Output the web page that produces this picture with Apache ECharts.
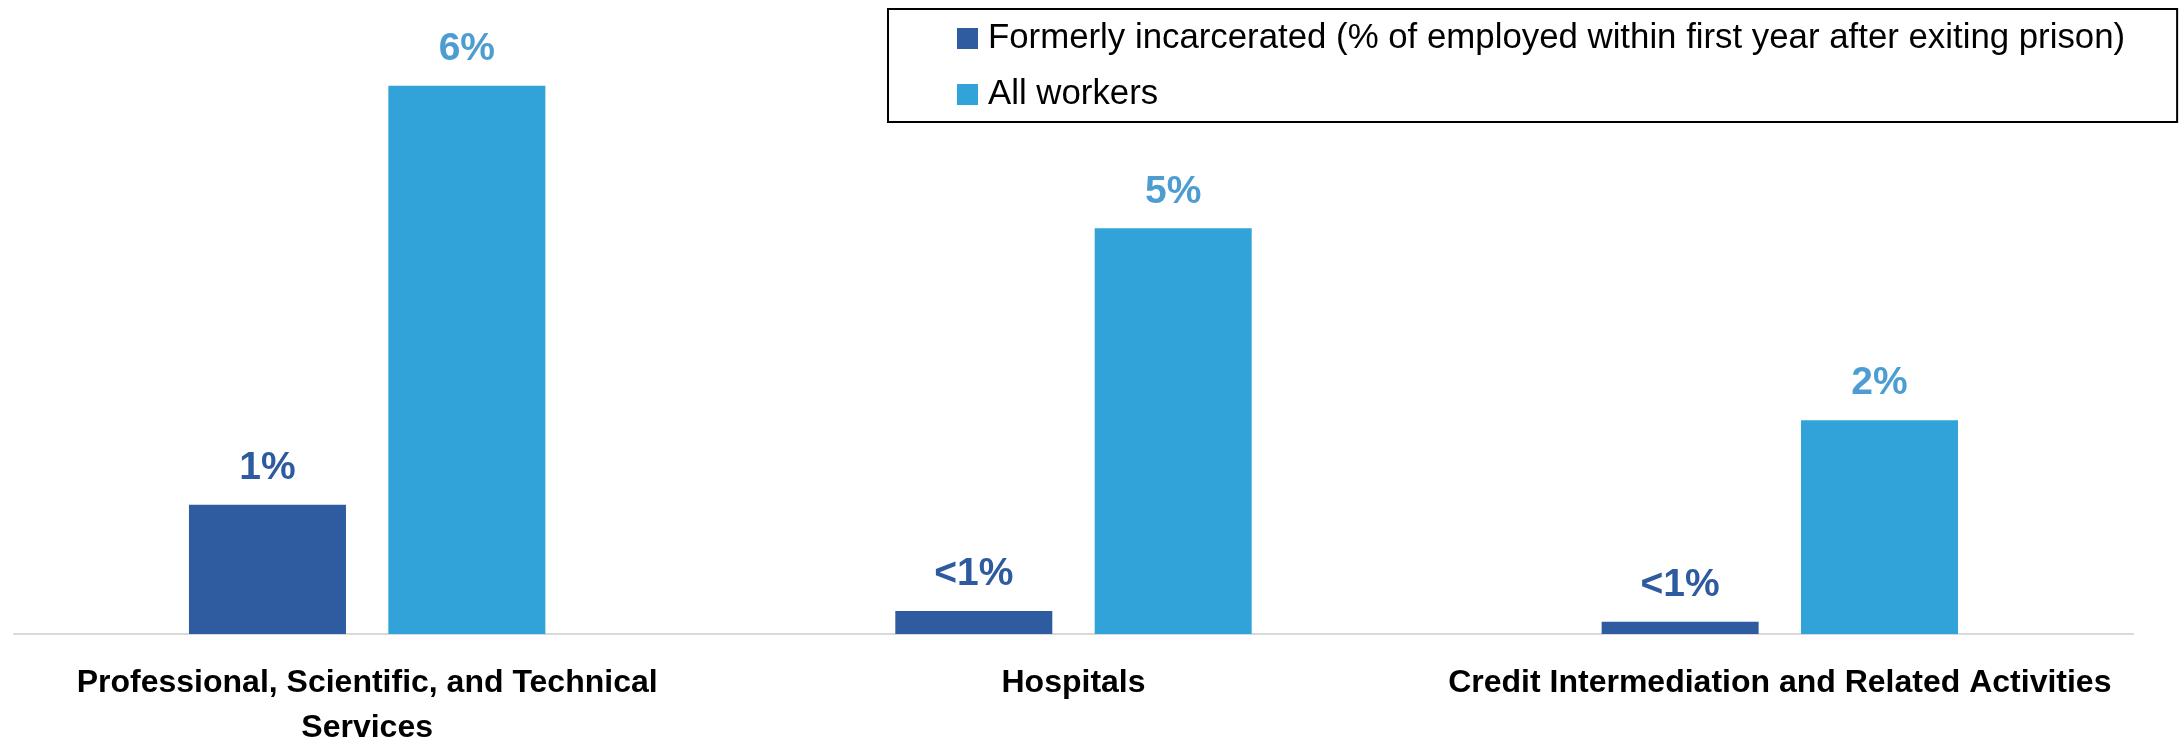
<!DOCTYPE html>
<html>
<head>
<meta charset="utf-8">
<title>Industry employment comparison</title>
<script src="https://cdn.jsdelivr.net/npm/echarts@6.0.0/dist/echarts.min.js"></script>
<style>
  html, body { margin: 0; padding: 0; background: #fff; }
  #chart { width: 2183px; height: 744px; }
</style>
</head>
<body>
<div id="chart"></div>
<script>
// 类别（行业）
const categories = [
  'Professional, Scientific, and Technical\nServices',
  'Hospitals',
  'Credit Intermediation and Related Activities'
];
// 系列名称
const seriesNames = [
  'Formerly incarcerated (% of employed within first year after exiting prison)',
  'All workers'
];
// 柱高（按图片估读，单位 %）
const formerlyValues = [1.47, 0.26, 0.14];
const allWorkersValues = [6.23, 4.61, 2.43];
// 柱顶显示的标签
const formerlyLabels = ['1%', '<1%', '<1%'];
const allWorkersLabels = ['6%', '5%', '2%'];

const FONT = '"Liberation Sans", Arial, sans-serif';
const DARK = '#2F5BA0';
const LIGHT = '#31A3D8';

const chart = echarts.init(document.getElementById('chart'));

const option = {
  animation: false,
  grid: {
    left: 14,
    right: 50,
    top: 18,
    bottom: 110,
    outerBoundsMode: 'none'  // 不让标签挤压绘图区
  },
  legend: {
    orient: 'vertical',
    left: 888,
    top: 9,
    padding: [12, 52, 10, 69],
    borderColor: '#000',
    borderWidth: 2,
    itemWidth: 21,
    itemHeight: 21,
    itemGap: 21,
    icon: 'rect',
    textStyle: {
      fontFamily: FONT,
      fontSize: 34.8,
      lineHeight: 35,
      padding: [0, 0, 0, 5],
      color: '#000'
    },
    data: seriesNames
  },
  xAxis: {
    type: 'category',
    data: categories,
    axisLine: { lineStyle: { color: '#d9d9d9', width: 2 } },
    axisTick: { show: false },
    axisLabel: {
      interval: 0,
      margin: 27,
      fontFamily: FONT,
      fontSize: 32,
      fontWeight: 'bold',
      lineHeight: 45,
      color: '#000'
    }
  },
  yAxis: {
    type: 'value',
    min: 0,
    max: 7,
    show: false,
    splitLine: { show: false }
  },
  series: [
    {
      name: seriesNames[0],
      type: 'bar',
      data: formerlyValues,
      barWidth: 157,
      barGap: '27%',
      itemStyle: { color: DARK },
      label: {
        show: true,
        position: 'top',
        distance: 17,
        fontFamily: FONT,
        fontSize: 39,
        fontWeight: 'bold',
        color: '#2E5AA0',
        formatter: (p) => formerlyLabels[p.dataIndex]
      }
    },
    {
      name: seriesNames[1],
      type: 'bar',
      data: allWorkersValues,
      barWidth: 157,
      barGap: '27%',
      itemStyle: { color: LIGHT },
      label: {
        show: true,
        position: 'top',
        distance: 17,
        fontFamily: FONT,
        fontSize: 39,
        fontWeight: 'bold',
        color: '#4D9DD3',
        formatter: (p) => allWorkersLabels[p.dataIndex]
      }
    }
  ]
};

chart.setOption(option);
</script>
</body>
</html>
